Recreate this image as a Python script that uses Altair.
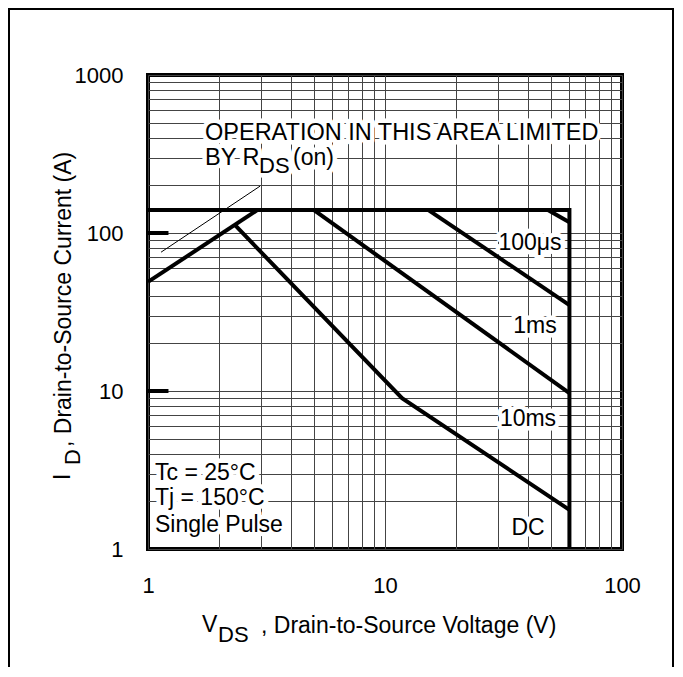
import altair as alt
import pandas as pd

# ---- grid / axis values ----
x_grid = [1, 2, 3, 4, 5, 6, 7, 8, 9, 10, 20, 30, 40, 50, 60, 70, 80, 90, 100]
y_grid = [1, 2, 3, 4, 5, 6, 7, 8, 9, 10, 20, 30, 40, 50, 60, 70, 80, 90,
          100, 200, 300, 400, 500, 600, 700, 800, 900, 1000]
x_labels = [1, 10, 100]
y_labels = [1, 10, 100, 1000]

# ---- SOA curves (V_DS [V], I_D [A]) ----
boundary_v = [1, 60, 60]
boundary_i = [140, 140, 1]
rds_v = [1, 2.9]
rds_i = [49, 140]
dc_v = [2.33, 11.8, 60]
dc_i = [112, 9.0, 1.77]
ms10_v = [5.0, 60]
ms10_i = [140, 9.7]
ms1_v = [15.2, 60]
ms1_i = [140, 35]
us100_v = [48.7, 60]
us100_i = [140, 117]
pointer_v = [1.135, 2.97]
pointer_i = [75.6, 198]
tick_i = [10, 100]
tick_v = [1, 1.22]

FONT = "Liberation Sans"

rows = []
for name, vs, is_ in [("boundary", boundary_v, boundary_i), ("rds", rds_v, rds_i),
                      ("dc", dc_v, dc_i), ("10ms", ms10_v, ms10_i),
                      ("1ms", ms1_v, ms1_i), ("100us", us100_v, us100_i)]:
    for k, (v, i) in enumerate(zip(vs, is_)):
        rows.append({"series": name, "order": k, "v": v, "i": i})
curves = pd.DataFrame(rows)
pointer = pd.DataFrame({"series": "ptr", "order": [0, 1], "v": pointer_v, "i": pointer_i})
ticks = pd.DataFrame({"v": [tick_v[0]] * 2, "v2": [tick_v[1]] * 2, "i": tick_i})

x_axis = alt.Axis(values=x_grid, grid=True, ticks=False, domain=False, title=None,
                  labelExpr="indexof([1,10,100], datum.value) >= 0 ? datum.label : ''",
                  labelFontSize=22, labelPadding=26, labelColor="black", labelFont=FONT,
                  labelOverlap=False, labelFlush=False, labelBound=False,
                  gridColor="#444444", gridWidth=1, tickSize=0, format="d")
y_axis = alt.Axis(values=y_grid, grid=True, ticks=False, domain=False, title=None,
                  labelExpr="indexof([1,10,100,1000], datum.value) >= 0 ? datum.label : ''",
                  labelFontSize=22, labelPadding=25, labelColor="black", labelFont=FONT,
                  labelOverlap=False, labelFlush=False, labelBound=False,
                  gridColor="#444444", gridWidth=1, tickSize=0, format="d")
xs = alt.Scale(type="log", domain=[1, 100], nice=False)
ys = alt.Scale(type="log", domain=[1, 1000], nice=False)
X = alt.X("v:Q", scale=xs, axis=x_axis)
Y = alt.Y("i:Q", scale=ys, axis=y_axis)

dummy = pd.DataFrame({"a": [0]})


def txt(s, x, y, size=23, align="left", angle=0, halo=False):
    out = []
    if halo:
        out.append(alt.Chart(dummy).mark_text(
            text=s, font=FONT, fontSize=size, align=align, baseline="alphabetic",
            angle=angle, color="white", stroke="white", strokeWidth=9, strokeJoin="round"
        ).encode(x=alt.value(x), y=alt.value(y)))
    out.append(alt.Chart(dummy).mark_text(
        text=s, font=FONT, fontSize=size, align=align, baseline="alphabetic",
        angle=angle, color="black"
    ).encode(x=alt.value(x), y=alt.value(y)))
    return out


frame = alt.Chart(dummy).mark_rect(fillOpacity=0, stroke="black", strokeWidth=2).encode(
    x=alt.value(-139), x2=alt.value(525), y=alt.value(-66), y2=alt.value(700))

base = alt.Chart(curves).mark_line(color="black", strokeWidth=4, strokeJoin="miter",
                                   strokeCap="butt").encode(
    x=X, y=Y, detail="series:N", order="order:Q")
ptr_line = alt.Chart(pointer).mark_line(color="black", strokeWidth=1).encode(
    x=X, y=Y, order="order:Q")
tick_marks = alt.Chart(ticks).mark_rule(color="black", strokeWidth=4).encode(
    x=X, x2="v2:Q", y=Y)

halo_texts = []
plain_texts = []
annos = [
    ("OPERATION IN THIS AREA LIMITED", 57, 65, 23.5, "left"),
    ("BY R", 57, 90, 23.5, "left"),
    ("DS", 111, 98, 22, "left"),
    ("(on)", 145, 90, 23, "left"),
    ("100μs", 382, 175, 23, "center"),
    ("1ms", 387, 258, 23, "center"),
    ("10ms", 380, 351, 23, "center"),
    ("DC", 380, 460, 23, "center"),
    ("Tc = 25°C", 7, 405, 23, "left"),
    ("Tj = 150°C", 7, 430, 23, "left"),
    ("Single Pulse", 7, 457, 23, "left"),
]
for s, x, y, size, al in annos:
    layers = txt(s, x, y, size, al, halo=True)
    halo_texts.append(layers[0])
    plain_texts.append(layers[1])

titles = []
titles += txt("V", 54, 557, 23)
titles += txt("DS", 70, 567, 22)
titles += txt(", Drain-to-Source Voltage (V)", 113, 558, 23)
titles += txt("I", -78, 405, 23, angle=270)
titles += txt("D", -68, 390, 22, angle=270)
titles += txt(", Drain-to-Source Current (A)", -77, 372, 23, angle=270)

chart = alt.layer(
    base.mark_line(opacity=0).encode(x=X, y=Y, detail="series:N", order="order:Q"),
    *halo_texts,
    base, ptr_line, tick_marks,
    *plain_texts, *titles, frame
).properties(
    width=474, height=474,
    autosize="none",
    padding={"left": 140, "top": 67, "right": 53, "bottom": 118},
).configure(font=FONT).configure_view(stroke="black", strokeWidth=4)

chart.save("out.html", embed_options={"renderer": "svg", "actions": False})
